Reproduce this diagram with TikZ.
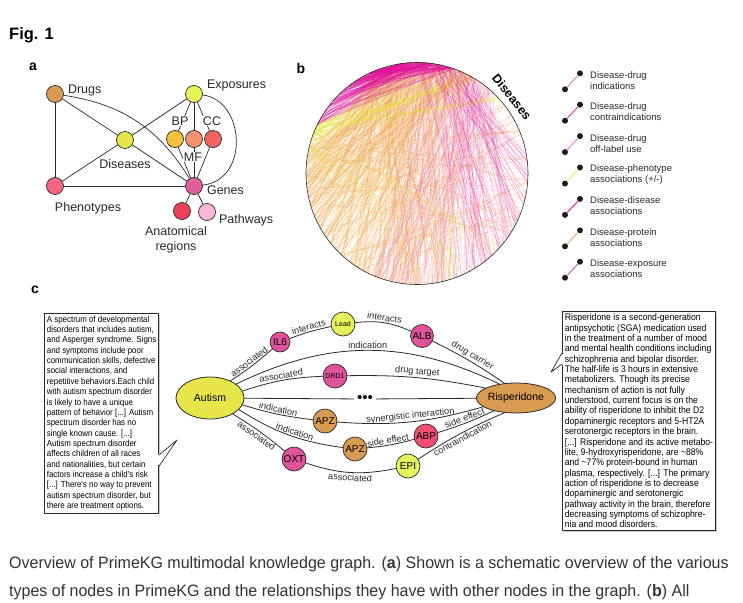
\documentclass[tikz,border=0pt]{standalone}
\usepackage{fontspec}
\setmainfont{Liberation Sans}
\newfontfamily\capfont[FakeStretch=0.97]{Liberation Sans}
\newfontfamily\boxfont[FakeStretch=0.9]{Liberation Sans}
\usepackage{xcolor}
\usetikzlibrary{positioning,shapes.geometric,shadows}
\definecolor{inkline}{HTML}{2A2A2A}
\definecolor{captext}{HTML}{333333}
\definecolor{dotblack}{HTML}{1E1E1E}
\definecolor{drugorange}{HTML}{D99A52}
\definecolor{diseaseyellow}{HTML}{E6E64A}
\definecolor{exposurelime}{HTML}{E6F25A}
\definecolor{bpgold}{HTML}{F2C23C}
\definecolor{mfsalmon}{HTML}{F3906E}
\definecolor{ccred}{HTML}{F2655F}
\definecolor{phenopink}{HTML}{F26684}
\definecolor{genemagenta}{HTML}{E0609F}
\definecolor{anatred}{HTML}{EC4058}
\definecolor{pathpink}{HTML}{F9B6D6}
\definecolor{proteinpink}{HTML}{E0529A}
\definecolor{abpred}{HTML}{F0506E}
\definecolor{indcol}{HTML}{D48AAA}
\definecolor{contracol}{HTML}{D44CB4}
\definecolor{offcol}{HTML}{F08AD2}
\definecolor{phencol}{HTML}{DDF060}
\definecolor{ddcol}{HTML}{E020A8}
\definecolor{protcol}{HTML}{E0B070}
\definecolor{expcol}{HTML}{C46A9A}
\definecolor{chordorange}{HTML}{F2A248}
\definecolor{chordpink}{HTML}{EE6AAA}
\definecolor{chordmagenta}{HTML}{E00FA0}
\definecolor{chordyellow}{HTML}{E6E62E}
\tikzset{
  kg figure/.style={
    x=1pt, y=-1pt,
    line cap=round,
    line join=round
  },
  typedot/.style={
    circle,
    draw=inkline,
    line width=0.7pt,
    minimum size=17pt,
    inner sep=0pt
  },
  typelabel/.style={
    font=\fontsize{12.5}{15}\selectfont,
    text=inkline,
    inner sep=1pt
  },
  subtypelabel/.style={
    typelabel,
    fill=white,
    inner sep=0.6pt
  },
  kgedge/.style={
    draw=inkline,
    line width=0.7pt
  },
  chord/.style={
    line width=0.35pt,
    opacity=0.35
  },
  legdot/.style={
    circle,
    fill=dotblack,
    inner sep=0pt,
    minimum size=6pt
  },
  legtext/.style={
    font=\fontsize{9.5}{11}\selectfont,
    align=left,
    anchor=west,
    inner sep=0pt,
    text=inkline
  },
  entity/.style={
    ellipse,
    draw=inkline,
    line width=0.8pt,
    font=\fontsize{10.5}{12}\selectfont,
    inner sep=0pt
  },
  cnode/.style={
    circle,
    draw=inkline,
    line width=0.7pt,
    minimum size=24pt,
    inner sep=0pt,
    font=\fontsize{10}{11}\selectfont
  },
  smallcnode/.style={
    cnode,
    font=\fontsize{7}{8}\selectfont
  },
  reledge/.style={
    draw=inkline,
    line width=0.8pt
  },
  rellabel/.style={
    font=\fontsize{9.2}{10}\selectfont,
    inner sep=1.2pt,
    sloped,
    text=inkline
  },
  descbox/.style={
    draw=inkline,
    line width=0.7pt,
    fill=white,
    align=left,
    anchor=north west,
    inner sep=2.5pt,
    drop shadow={shadow xshift=1.2pt, shadow yshift=-1.2pt, fill=black!35, opacity=0.6}
  },
  boxline/.style={
    draw=inkline,
    line width=0.7pt
  },
  panellabel/.style={
    font=\bfseries\fontsize{14}{16}\selectfont,
    inner sep=0pt
  }
}

\begin{document}
\begin{tikzpicture}[kg figure]
\useasboundingbox (0,0) rectangle (743,602);
\fill[white] (0,0) rectangle (743,602);

\node[anchor=west, font=\bfseries\fontsize{16.5}{18}\selectfont, inner sep=0pt] (figtitle) at (9,35) {Fig. 1};
\node[panellabel] (pa) at (33,67) {a};
\node[panellabel] (pb) at (301,68) {b};
\node[panellabel] (pc) at (35,290) {c};

% panel a: node types
\node[typedot, fill=drugorange] (drugs) at (55,94) {};
\node[typedot, fill=exposurelime] (expo) at (194,94) {};
\node[typedot, fill=diseaseyellow] (dis) at (125,140) {};
\node[typedot, fill=bpgold] (bp) at (175,139) {};
\node[typedot, fill=mfsalmon] (mf) at (194,139) {};
\node[typedot, fill=ccred] (cc) at (213,139) {};
\node[typedot, fill=phenopink] (pheno) at (55,186) {};
\node[typedot, fill=genemagenta] (genes) at (194,186) {};
\node[typedot, fill=anatred] (anat) at (182,211) {};
\node[typedot, fill=pathpink] (path) at (207,212) {};

\draw[kgedge] (drugs) -- (pheno);
\draw[kgedge] (drugs) -- (dis);
\draw[kgedge] (drugs) to[bend left=25] (genes);
\draw[kgedge] (dis) -- (expo);
\draw[kgedge] (dis) -- (pheno);
\draw[kgedge] (dis) -- (genes);
\draw[kgedge] (pheno) -- (genes);
\foreach \g in {bp,mf,cc}{
  \draw[kgedge] (expo) -- (\g);
  \draw[kgedge] (\g) -- (genes);
}
\draw[kgedge] (expo) .. controls (245,100) and (250,180) .. (genes);
\draw[kgedge] (genes) -- (anat);
\draw[kgedge] (genes) -- (path);

\node[typelabel, right=3pt of drugs, yshift=4pt] (drugs-lbl) {Drugs};
\node[typelabel, right=3pt of expo, yshift=9pt] (expo-lbl) {Exposures};
\node[typelabel, below=9pt of dis] (dis-lbl) {Diseases};
\node[typelabel] (pheno-lbl) at (88,208) {Phenotypes};
\node[typelabel, right=3pt of genes, yshift=-4pt] (genes-lbl) {Genes};
\node[typelabel, align=center] (anat-lbl) at (176,240) {Anatomical\\regions};
\node[typelabel, right=2pt of path, yshift=-8pt] (path-lbl) {Pathways};
\node[subtypelabel] (bp-lbl) at (180,121) {BP};
\node[subtypelabel] (cc-lbl) at (212,121) {CC};
\node[subtypelabel] (mf-lbl) at (193,157) {MF};

% panel b: disease edges on a circle
\begin{scope}[shift={(417,173.5)}, yscale=-1]
  \pgfmathsetseed{314}
  \foreach \k in {1,...,280}{
    \pgfmathsetmacro\ta{60+55*rnd}
    \pgfmathsetmacro\tb{165+125*rnd}
    \draw[chord, draw=chordorange, opacity=0.42] (\ta:111) -- (\tb:111);
  }
  \foreach \k in {1,...,70}{
    \pgfmathsetmacro\ta{-40+90*rnd}
    \pgfmathsetmacro\tb{150+110*rnd}
    \draw[chord, draw=chordorange] (\ta:111) -- (\tb:111);
  }
  \foreach \k in {1,...,130}{
    \pgfmathsetmacro\ta{45+50*rnd}
    \pgfmathsetmacro\tb{245+90*rnd}
    \draw[chord, draw=chordpink] (\ta:111) -- (\tb:111);
  }
  \foreach \k in {1,...,35}{
    \pgfmathsetmacro\ta{152+12*rnd}
    \pgfmathsetmacro\tb{40+60*rnd}
    \draw[chord, draw=chordyellow, opacity=0.5] (\ta:111) -- (\tb:111);
  }
  \foreach \k in {1,...,20}{
    \pgfmathsetmacro\ta{150+20*rnd}
    \pgfmathsetmacro\tb{200+130*rnd}
    \draw[chord, draw=chordyellow, opacity=0.45] (\ta:111) -- (\tb:111);
  }
  \foreach \k in {1,...,160}{
    \pgfmathsetmacro\ta{70+30*rnd}
    \pgfmathsetmacro\tb{110+45*rnd}
    \draw[chord, draw=chordmagenta, opacity=0.45] (\ta:111) -- (\tb:111);
  }
  \foreach \k in {1,...,45}{
    \pgfmathsetmacro\ta{60+30*rnd}
    \pgfmathsetmacro\tb{-70+80*rnd}
    \draw[chord, draw=chordmagenta] (\ta:111) -- (\tb:111);
  }
  \draw[line width=0.6pt, draw=inkline] (0,0) circle (111);
\end{scope}
\node[font=\bfseries\fontsize{12.5}{14}\selectfont, rotate=-51, inner sep=0pt] (dis-arc) at (512,97) {Diseases};

% legend
\foreach \col/\first/\second [count=\i from 0] in {indcol/Disease-drug/indications, contracol/Disease-drug/contraindications, offcol/Disease-drug/off-label use, phencol/Disease-phenotype/{associations (+/-)}, ddcol/Disease-disease/associations, protcol/Disease-protein/associations, expcol/Disease-exposure/associations}{
  \node[legdot] (leg-hi-\i) at (580,73.3+31.4*\i) {};
  \node[legdot] (leg-lo-\i) at (565,89.3+31.4*\i) {};
  \draw[line width=1pt, draw=\col] (leg-lo-\i) -- (leg-hi-\i);
  \node[legtext] (leg-txt-\i) at (590,80.5+31.4*\i) {\first\\\second};
}

% panel c: example subgraph
\node[entity, fill=diseaseyellow, minimum width=68pt, minimum height=42pt] (autism) at (210,398) {Autism};
\node[entity, fill=drugorange, minimum width=62pt, minimum height=30pt] (risp) at (516,398) {Risperidone};
\node[cnode, fill=proteinpink, minimum size=20pt] (il6) at (280,342) {IL6};
\node[smallcnode, fill=exposurelime] (lead) at (343,324) {Lead};
\node[cnode, fill=proteinpink, minimum size=23pt] (alb) at (422,336) {ALB};
\node[smallcnode, fill=proteinpink] (drd1) at (335,376) {DRD1};
\node[inner sep=3pt, font=\fontsize{15}{15}\selectfont] (dots) at (365,399) {\textbullet\textbullet\textbullet};
\node[cnode, fill=drugorange] (apz1) at (325,421) {APZ};
\node[cnode, fill=drugorange] (apz2) at (355,449) {APZ};
\node[cnode, fill=abpred] (abp) at (426,436) {ABP};
\node[cnode, fill=proteinpink] (oxt) at (294,459) {OXT};
\node[cnode, fill=exposurelime] (epi) at (408,466) {EPI};

\draw[reledge] (autism.40) to[bend right=4] node[rellabel, above] {associated} (il6);
\draw[reledge] (il6) to[bend left=4] node[rellabel, above] {interacts} (lead);
\draw[reledge] (lead) to[bend left=15] node[rellabel, above] {interacts} (alb);
\draw[reledge] (alb) to[bend left=4] node[rellabel, above] {drug carrier} (risp.128);
\draw[reledge] (autism.28) to[bend left=26] node[rellabel, above] {indication} (risp.140);
\draw[reledge] (autism.12) to[bend left=8] node[rellabel, above] {associated} (drd1);
\draw[reledge] (drd1) to[bend left=6] node[rellabel, above] {drug target} (risp.162);
\draw[reledge] (autism) -- (dots);
\draw[reledge] (dots) -- (risp);
\draw[reledge] (autism.-12) to[bend right=5] node[rellabel, above] {indication} (apz1);
\draw[reledge] (apz1) to[bend right=10] node[rellabel, above] {synergistic interaction} (risp.-165);
\draw[reledge] (autism.-22) to[bend right=12] node[rellabel, above, pos=0.55] {indication} (apz2);
\draw[reledge] (apz2) to[bend right=5] node[rellabel, above, pos=0.45] {side effect} (abp);
\draw[reledge] (abp) to[bend right=4] node[rellabel, above] {side effect} (risp.-150);
\draw[reledge] (autism.-35) to[bend left=4] node[rellabel, below] {associated} (oxt);
\draw[reledge] (oxt) to[bend right=15] node[rellabel, below] {associated} (epi);
\draw[reledge] (epi) to[bend left=5] node[rellabel, below] {contraindication} (risp.-128);

% description boxes
\node[descbox, font=\boxfont\fontsize{8.8}{10.35}\selectfont] (autism-txt) at (44,313) {A spectrum of developmental\\
disorders that includes autism,\\
and Asperger syndrome. Signs\\
and symptoms include poor\\
communication skills, defective\\
social interactions, and\\
repetitive behaviors.Each child\\
with autism spectrum disorder\\
is likely to have a unique\\
pattern of behavior [...] Autism\\
spectrum disorder has no\\
single known cause. [...]\\
Autism spectrum disorder\\
affects children of all races\\
and nationalities, but certain\\
factors increase a child's risk\\
{[...]} There's no way to prevent\\
autism spectrum disorder, but\\
there are treatment options.};
\coordinate (autism-tip) at (177,440);
\fill[white] ([xshift=-1.5pt, yshift=-142pt]autism-txt.north east) -- (autism-tip) -- ([xshift=-1.5pt, yshift=-153pt]autism-txt.north east) -- cycle;
\draw[boxline] ([yshift=-142pt]autism-txt.north east) -- (autism-tip) -- ([yshift=-153pt]autism-txt.north east);

\node[descbox, font=\boxfont\fontsize{9.6}{10.35}\selectfont] (risp-txt) at (562,311) {Risperidone is a second-generation\\
antipsychotic (SGA) medication used\\
in the treatment of a number of mood\\
and mental health conditions including\\
schizophrenia and bipolar disorder.\\
The half-life is 3 hours in extensive\\
metabolizers. Though its precise\\
mechanism of action is not fully\\
understood, current focus is on the\\
ability of risperidone to inhibit the D2\\
dopaminergic receptors and 5-HT2A\\
serotonergic receptors in the brain.\\
{[...]} Risperidone and its active metabo-\\
lite, 9-hydroxyrisperidone, are \textasciitilde88\%\\
and \textasciitilde77\% protein-bound in human\\
plasma, respectively. [...] The primary\\
action of risperidone is to decrease\\
dopaminergic and serotonergic\\
pathway activity in the brain, therefore\\
decreasing symptoms of schizophre-\\
nia and mood disorders.};
\coordinate (risp-tip) at (551,372);
\fill[white] ([xshift=1.5pt, yshift=-42pt]risp-txt.north west) -- (risp-tip) -- ([xshift=1.5pt, yshift=-53pt]risp-txt.north west) -- cycle;
\draw[boxline] ([yshift=-42pt]risp-txt.north west) -- (risp-tip) -- ([yshift=-53pt]risp-txt.north west);

% caption
\node[anchor=north west, align=left, inner sep=0pt, text=captext, font=\capfont\fontsize{16.5}{28.5}\selectfont] (caption) at (9,556) {Overview of PrimeKG multimodal knowledge graph. (\textbf{a}) Shown is a schematic overview of the various\\
types of nodes in PrimeKG and the relationships they have with other nodes in the graph. (\textbf{b}) All};
\end{tikzpicture}
\end{document}
